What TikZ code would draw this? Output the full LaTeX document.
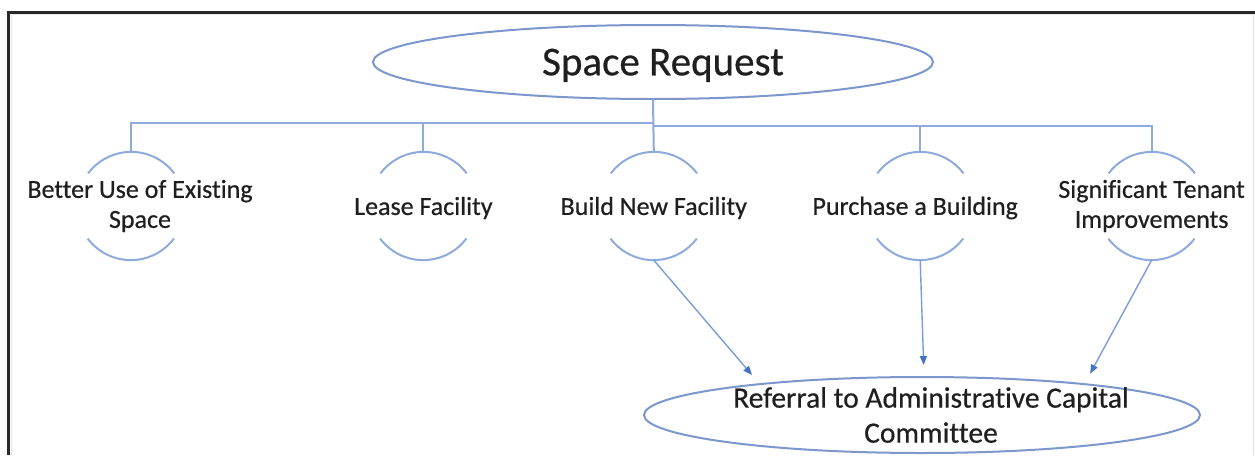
\documentclass[tikz,border=0pt]{standalone}
\usepackage{fontspec}
\setmainfont{Carlito}[Ligatures={NoCommon,NoRare,NoContextual}, FakeBold=0.5]
\RequirePackage{xcolor}
\definecolor{linkblue}{RGB}{143,170,220}
\definecolor{ovalblue}{RGB}{124,151,204}
\definecolor{tipblue}{RGB}{68,114,196}
\definecolor{framegray}{RGB}{40,40,40}
\usetikzlibrary{shapes.geometric}
\usetikzlibrary{positioning}
\usetikzlibrary{arrows.meta}
\tikzset{
  oval/.style={ellipse, draw=ovalblue, line width=2pt, inner sep=0pt},
  option/.style={circle, minimum size=108pt, inner sep=0pt},
  optlabel/.style={font=\fontsize{26}{30}\selectfont, align=center, text=black!88},
  link/.style={draw=linkblue, line width=2pt},
  flow/.style={draw=linkblue!75!tipblue, line width=1.4pt, -{Triangle[length=9pt,width=7pt,color=tipblue]}, shorten >=11pt}
}

\begin{document}
\begin{tikzpicture}[x=1pt, y=-1pt]
  \fill[white] (0,0) rectangle (1255,455);
  \useasboundingbox (0,0) rectangle (1255,455);

  % frame
  \draw[framegray, line width=3pt] (8.5,455) -- (8.5,12) -- (1255,12);
  \draw[black!10, line width=1.5pt] (11.5,455) -- (11.5,14.5) -- (1255,14.5);
  \draw[black!12, line width=1pt] (1253,14) -- (1253,455);

  \node [oval, minimum width=560pt, minimum height=74pt, font=\fontsize{41}{49}\selectfont, text=black!88, text depth=0pt, inner xsep=0pt] (req) at (653,62) {\hspace{20pt}Space Request};

  \node [option] (c1) at (131,206) {};
  \node [option, right=184pt of c1] (c2) {};
  \node [option, right=122pt of c2] (c3) {};
  \node [option, right=158pt of c3] (c4) {};
  \node [option, right=123pt of c4] (c5) {};

  \node [optlabel, xshift=9pt] (l1) at (c1) {Better Use of Existing\\Space};
  \node [optlabel, yshift=-2pt] (l2) at (c2) {Lease Facility};
  \node [optlabel, yshift=-2pt] (l3) at (c3) {Build New Facility};
  \node [optlabel, xshift=-5pt, yshift=-2pt] (l4) at (c4) {Purchase a Building};
  \node [optlabel] (l5) at (c5) {Significant Tenant\\Improvements};

  \node [oval, minimum width=556pt, minimum height=76pt] (ref) at (922,415) {};
  \node [font=\fontsize{29.5}{35}\selectfont, align=center, text=black!88, xshift=9pt] (reftext) at (ref) {Referral to Administrative Capital\\Committee};

  % open circles: top and bottom arcs only
  \foreach \c in {c1,c2,c3,c4,c5} {
    \draw[link] (\c.37) arc[start angle=37, end angle=143, radius=54pt];
    \draw[link] (\c.217) arc[start angle=217, end angle=323, radius=54pt];
  }

  % tree
  \coordinate (busL) at ([yshift=-23pt]req.south);
  \coordinate (busR) at ([yshift=-26pt]req.south);
  \draw[link] (req.south) -- (c3.north);
  \draw[link] (busL) -| (c1.north);
  \draw[link] (busL) -| (c2.north);
  \draw[link] (busR) -| (c4.north);
  \draw[link] (busR) -| (c5.north);

  % to committee
  \draw[flow] (c3.south) -- (ref.169);
  \draw[flow] (c4.south) -- (ref.87);
  \draw[flow] (c5.south) -- (ref.11);

\end{tikzpicture}
\end{document}
